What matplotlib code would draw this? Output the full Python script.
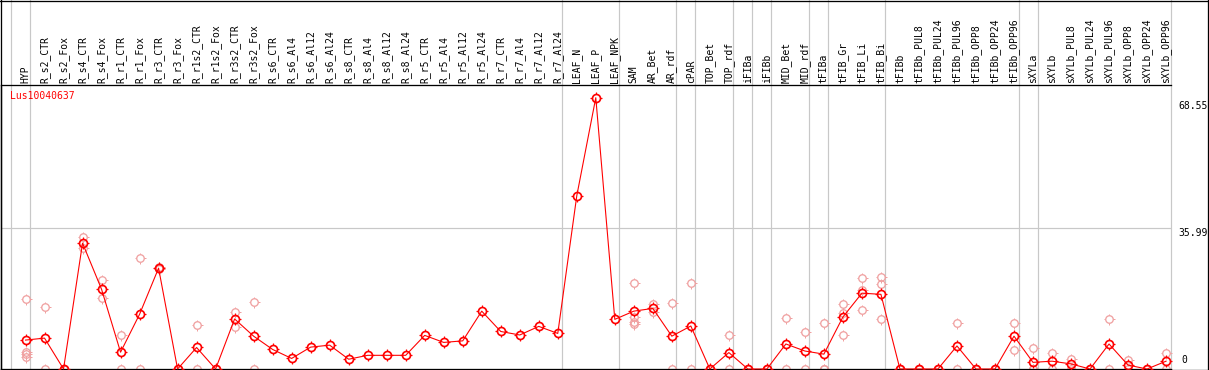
import matplotlib
matplotlib.use("Agg")
import matplotlib.pyplot as plt
from matplotlib.path import Path
from matplotlib.lines import Line2D
import matplotlib.transforms as mtransforms

title = "Lus10040637"

categories = ["HYP", "R_s2_CTR", "R_s2_Fox", "R_s4_CTR", "R_s4_Fox", "R_r1_CTR", "R_r1_Fox",
              "R_r3_CTR", "R_r3_Fox", "R_r1s2_CTR", "R_r1s2_Fox", "R_r3s2_CTR", "R_r3s2_Fox",
              "R_s6_CTR", "R_s6_Al4", "R_s6_Al12", "R_s6_Al24", "R_s8_CTR", "R_s8_Al4",
              "R_s8_Al12", "R_s8_Al24", "R_r5_CTR", "R_r5_Al4", "R_r5_Al12", "R_r5_Al24",
              "R_r7_CTR", "R_r7_Al4", "R_r7_Al12", "R_r7_Al24", "LEAF_N", "LEAF_P", "LEAF_NPK",
              "SAM", "AR_Bet", "AR_rdf", "cPAR", "TOP_Bet", "TOP_rdf", "iFIBa", "iFIBb",
              "MID_Bet", "MID_rdf", "tFIBa", "tFIB_Gr", "tFIB_Li", "tFIB_Bi", "tFIBb",
              "tFIBb_PUL8", "tFIBb_PUL24", "tFIBb_PUL96", "tFIBb_OPP8", "tFIBb_OPP24",
              "tFIBb_OPP96", "sXYLa", "sXYLb", "sXYLb_PUL8", "sXYLb_PUL24", "sXYLb_PUL96",
              "sXYLb_OPP8", "sXYLb_OPP24", "sXYLb_OPP96"]

means = [7.4, 7.9, 0, 32.2, 20.4, 4.3, 14.0, 25.8, 0, 5.5,
         0, 12.8, 8.4, 5.0, 2.7, 5.6, 6.1, 2.5, 3.5, 3.5,
         3.5, 8.6, 6.8, 7.2, 14.8, 9.6, 8.7, 10.9, 9.1, 44.3,
         69.4, 12.7, 14.8, 15.5, 8.4, 11.0, 0, 4.2, 0, 0,
         6.4, 4.6, 3.8, 13.3, 19.4, 19.1, 0, 0, 0, 5.9,
         0, 0, 8.4, 1.7, 2.0, 1.3, 0, 6.4, 1.0, 0,
         2.0]

replicates = [[17.9, 4.4, 3.8, 3.0], [15.8, 0], [0, 0], [33.7, 31.0], [22.8, 18.2],
              [8.6, 0], [28.3, 0], [26.0, 25.5], [0, 0], [11.2, 0], [0, 0],
              [14.6, 10.7], [17.1, 0],
              [], [], [], [], [], [], [], [], [], [], [], [], [], [], [], [],
              [], [], [],
              [21.9, 13.4, 12.0, 11.5], [16.5, 14.6], [16.8, 0], [21.9, 0], [0, 0],
              [8.6, 0], [0, 0], [0, 0], [13.0, 0], [9.4, 0], [11.7, 0, 0],
              [16.5, 14.2, 8.6], [23.2, 20.2, 15.0], [23.5, 21.7, 12.8],
              [0, 0], [0, 0], [0, 0], [11.7, 0], [0, 0], [0, 0], [11.7, 4.8],
              [5.3, 0, 0], [4.0, 0], [2.6, 0], [0, 0], [12.8, 0], [2.3, 0], [0, 0],
              [4.0, 0]]

# separators are drawn after these category indices (-1 = before the first)
group_ends = [-1, 0, 28, 31, 34, 35, 37, 38, 39, 41, 42, 45, 52, 53, 60]
grid_value = 35.99
max_label = 68.55

W, H = 1209, 370
fig = plt.figure(figsize=(W / 100, H / 100), dpi=100)
px = 72 / 100  # points per pixel

# plot area in pixels: x 1..1171, y 85..369
ax = fig.add_axes([0.5 / W, 1 / H, 1170.5 / W, 284 / H])
ax.set_xlim(-1.3158, 60.26)
ax.set_ylim(0, 72.65)

mono = "DejaVu Sans Mono"
fs = 7.0

# little tick marks around each circle
tick_marker = Path([(0, 0.72), (0, 1.0), (0, -0.72), (0, -1.0),
                    (0.72, 0), (1.0, 0), (-0.72, 0), (-1.0, 0)],
                   [Path.MOVETO, Path.LINETO] * 4)

gray = "#c8c8c8"
for g in group_ends:
    ax.axvline(g + 0.24, ymin=0, ymax=(284 + 85) / 284, color=gray, lw=1.2 * px,
               clip_on=False, zorder=1)
ax.axhline(grid_value, color=gray, lw=1.2 * px, zorder=1)

xs = list(range(len(categories)))
rx, ry = [], []
for i, reps in enumerate(replicates):
    for r in reps:
        rx.append(i)
        ry.append(r)

pink = "#f0a0a0"
red = "#ff0000"
ax.plot(rx, ry, linestyle="none", marker="o", markersize=7.5 * px,
        markerfacecolor="none", markeredgecolor=pink, markeredgewidth=1.3 * px,
        clip_on=False, zorder=2)
ax.plot(rx, ry, linestyle="none", marker=tick_marker, markersize=11 * px,
        markerfacecolor="none", markeredgecolor=pink, markeredgewidth=1.0 * px,
        clip_on=False, zorder=2)
ax.plot(xs, means, color=red, lw=1.1 * px, zorder=3, clip_on=False)
ax.plot(xs, means, linestyle="none", marker="o", markersize=8 * px,
        markerfacecolor="none", markeredgecolor=red, markeredgewidth=1.7 * px,
        clip_on=False, zorder=4)
ax.plot(xs, means, linestyle="none", marker=tick_marker, markersize=11.5 * px,
        markerfacecolor="none", markeredgecolor=red, markeredgewidth=1.2 * px,
        clip_on=False, zorder=4)

# header labels on top
ax.xaxis.tick_top()
ax.set_xticks(xs)
ax.set_xticklabels(categories, rotation=90, fontfamily=mono, fontsize=fs)
ax.tick_params(axis="x", length=0, pad=1.5)
ax.set_yticks([])

for side in ["left", "top", "bottom"]:
    ax.spines[side].set_color("black")
    ax.spines[side].set_linewidth(1.3 * px)
ax.spines["right"].set_visible(False)

fig.text(10 / W, 1 - 96 / H, title, color=red, fontfamily=mono, fontsize=fs,
         ha="left", va="center")

trans = mtransforms.blended_transform_factory(ax.transAxes, ax.transData)
xlab = (1178 - 0.5) / 1170.5
ax.text(xlab, max_label, f"{max_label:.2f}", transform=trans, ha="left", va="top",
        fontfamily=mono, fontsize=fs, clip_on=False)
ax.text(xlab, grid_value, f"{grid_value:.2f}", transform=trans, ha="left", va="top",
        fontfamily=mono, fontsize=fs, clip_on=False)
ax.text(xlab + 3 / 1170.5, 1.0, "0", transform=trans, ha="left", va="bottom",
        fontfamily=mono, fontsize=fs, clip_on=False)

# outer frame
fig.add_artist(Line2D([0, 1], [1 - 0.5 / H, 1 - 0.5 / H], color="black", lw=1.3 * px))
fig.add_artist(Line2D([1207.5 / W, 1207.5 / W], [0, 1], color="black", lw=1.3 * px))
fig.add_artist(Line2D([0.5 / W, 0.5 / W], [0, 1], color="black", lw=1.3 * px))
fig.add_artist(Line2D([0, 1207.5 / W], [0.5 / H, 0.5 / H], color="black", lw=1.3 * px))

fig.savefig("out.png", dpi=100)
